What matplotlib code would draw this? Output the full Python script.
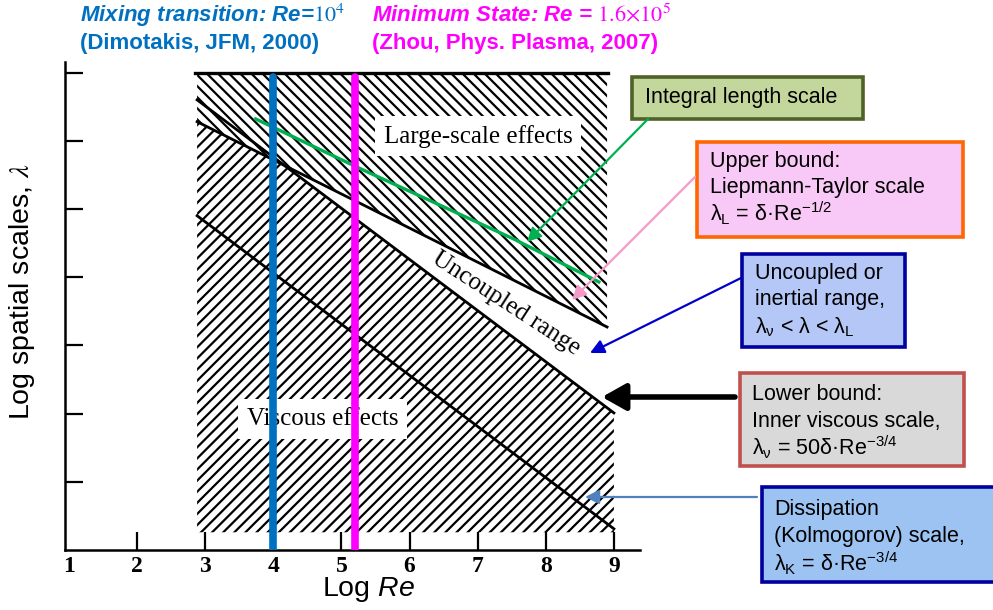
import numpy as np
import matplotlib
matplotlib.use("Agg")
import matplotlib.pyplot as plt
from matplotlib.patches import Rectangle, FancyArrowPatch

# ---------------- data (log10 units) ----------------
log_re_ticks = [1, 2, 3, 4, 5, 6, 7, 8, 9]
log_scale_ticks = [1, 2, 3, 4, 5, 6, 7]

region_start = 2.88          # left edge of the shaded regimes
upper_region_end = 8.90      # right edge of the large-scale region
lower_region_end = 9.00      # right edge of the viscous region
large_scale_top = 7.0
viscous_floor = 0.26

# log(lambda) = intercept + slope * log(Re)
lt_intercept, lt_slope = 7.72, -0.5                  # Liepmann-Taylor, delta*Re^-1/2
nu_intercept, nu_slope = 8.76, -0.75                 # inner viscous, 50*delta*Re^-3/4
k_intercept, k_slope = nu_intercept - np.log10(50), -0.75   # Kolmogorov, delta*Re^-3/4

integral_log_re = [3.74, 5.28, 7.53, 8.78]
integral_log_scale = [6.32, 5.59, 4.56, 3.93]

re_mixing = 1e4
re_minimum = 1.6e5
marker_top = 6.94

# ---------------- style ----------------
plt.rcParams["font.family"] = ["Liberation Sans", "DejaVu Sans"]
plt.rcParams["mathtext.fontset"] = "custom"
plt.rcParams["mathtext.rm"] = "Liberation Sans"
plt.rcParams["mathtext.it"] = "Liberation Sans:italic"
plt.rcParams["mathtext.bf"] = "Liberation Sans:bold"
plt.rcParams["hatch.linewidth"] = 1.6

W, H = 993, 610
fig = plt.figure(figsize=(W / 100, H / 100), dpi=100)
fig.patch.set_facecolor("white")


def fpx(x, y):
    """pixel position (from top-left) -> figure fraction"""
    return x / W, 1 - y / H


ax_left, ax_right, ax_top, ax_bottom = 65, 640, 62, 550
ax = fig.add_axes([ax_left / W, 1 - ax_bottom / H,
                   (ax_right - ax_left) / W, (ax_bottom - ax_top) / H])
ax.set_xlim(0.94, 0.94 + (ax_right - ax_left) / 68.1)
ax.set_ylim(0, (ax_bottom - ax_top) / 68.2)
ax.set_facecolor("none")

for side in ("top", "right"):
    ax.spines[side].set_visible(False)
for side in ("left", "bottom"):
    ax.spines[side].set_linewidth(1.8)

ax.set_xticks(log_re_ticks)
ax.set_xticklabels([str(t) for t in log_re_ticks],
                   fontfamily="Liberation Serif", fontweight="bold", fontsize=17)
ax.set_yticks(log_scale_ticks)
ax.set_yticklabels([])
ax.tick_params(axis="both", direction="in", length=13, width=1.6, pad=4)
ax.xaxis.get_major_ticks()[0].tick1line.set_visible(False)

# ---------------- regimes ----------------
xu = np.linspace(region_start, upper_region_end, 300)
xl = np.linspace(region_start, lower_region_end, 300)
lam_L_u = lt_intercept + lt_slope * xu
lam_L_l = lt_intercept + lt_slope * xl
lam_nu_l = nu_intercept + nu_slope * xl
lam_K_l = k_intercept + k_slope * xl

ax.fill_between(xu, lam_L_u, large_scale_top, facecolor="none",
                edgecolor="black", hatch="\\\\\\", linewidth=0, zorder=1)
ax.fill_between(xl, viscous_floor, np.minimum(lam_L_l, lam_nu_l), facecolor="none",
                edgecolor="black", hatch="///", linewidth=0, zorder=1)

ax.plot([region_start - 0.03, upper_region_end + 0.02],
        [large_scale_top, large_scale_top], color="black", lw=2.4, zorder=2)
ax.plot(xu, lam_L_u, color="black", lw=2.0, zorder=2)
ax.plot(xl, lam_nu_l, color="black", lw=2.0, zorder=2)
ax.plot(xl, lam_K_l, color="black", lw=2.0, zorder=2)

# integral length scale
ax.plot(integral_log_re, integral_log_scale, color="#00B050", lw=2.4, zorder=4)

# Reynolds-number markers
ax.plot([np.log10(re_mixing)] * 2, [0, marker_top], color="#0070C0", lw=5.5,
        solid_capstyle="round", zorder=5)
ax.plot([np.log10(re_minimum)] * 2, [0, marker_top], color="#FF00FF", lw=5.5,
        solid_capstyle="round", zorder=5)

# regime labels
ax.text(7.01, 6.07, "Large-scale effects", fontfamily="Liberation Serif",
        fontsize=18, ha="center", va="center", zorder=3,
        bbox=dict(boxstyle="square,pad=0.35", fc="white", ec="none"))
ax.text(4.72, 1.92, "Viscous effects", fontfamily="Liberation Serif",
        fontsize=18, ha="center", va="center", zorder=3,
        bbox=dict(boxstyle="square,pad=0.35", fc="white", ec="none"))
ax.text(7.42, 3.62, "Uncoupled range", fontfamily="Liberation Serif",
        fontsize=18, ha="center", va="center", rotation=-33,
        rotation_mode="anchor", zorder=3)

# axis titles
fig.text(*fpx(22, 292), r"Log spatial scales, $\lambda$", rotation=90,
         fontsize=20.5, ha="center", va="center", math_fontfamily="stix")
fig.text(*fpx(368, 590), r"Log $Re$", fontsize=20.5, ha="center", va="center")

# header notes
fig.text(*fpx(80, 15), r"Mixing transition: Re=$10^4$", color="#0070C0",
         fontsize=16, fontweight="bold", fontstyle="italic", va="center",
         math_fontfamily="stix")
fig.text(*fpx(80, 43), "(Dimotakis, JFM, 2000)", color="#0070C0",
         fontsize=16, fontweight="bold", va="center")
fig.text(*fpx(372, 15), r"Minimum State: Re = $1.6{\times}10^5$", color="#FF00FF",
         fontsize=16, fontweight="bold", fontstyle="italic", va="center",
         math_fontfamily="stix")
fig.text(*fpx(372, 43), "(Zhou, Phys. Plasma, 2007)", color="#FF00FF",
         fontsize=16, fontweight="bold", va="center")


# ---------------- callout boxes ----------------
def callout(x0, y0, x1, y1, fc, ec, lines, tx, ty0, dy=26):
    fig.add_artist(Rectangle(fpx(x0, y1), (x1 - x0) / W, (y1 - y0) / H,
                             transform=fig.transFigure, fc=fc, ec=ec, lw=2.6,
                             zorder=6))
    for i, s in enumerate(lines):
        fig.text(*fpx(tx, ty0 + i * dy), s, fontsize=15.5, va="center",
                 ha="left", zorder=7)


def arrow(p0, p1, color, lw=1.6, head="-|>,head_length=0.6,head_width=0.3", ms=14):
    fig.add_artist(FancyArrowPatch(fpx(*p0), fpx(*p1), transform=fig.transFigure,
                                   arrowstyle=head, mutation_scale=ms,
                                   color=color, lw=lw, zorder=6,
                                   shrinkA=0, shrinkB=0))


callout(632, 77, 863, 119, "#C3D69B", "#4F6228",
        ["Integral length scale"], 645, 98)
callout(697, 142, 963, 237, "#F8C8F6", "#FF6600",
        ["Upper bound:", "Liepmann-Taylor scale",
         r"λ$_\mathrm{L}$ = δ·Re$^{\mathrm{-1/2}}$"], 710, 162, 25.5)
callout(742, 254, 905, 347, "#B4C7F6", "#0000A0",
        ["Uncoupled or", "inertial range,",
         r"λ$_\mathrm{\nu}$ < λ < λ$_\mathrm{L}$"], 755, 273, 27)
callout(740, 373, 964, 466, "#D9D9D9", "#C0504D",
        ["Lower bound:", "Inner viscous scale,",
         r"λ$_\mathrm{\nu}$ = 50δ·Re$^{\mathrm{-3/4}}$"], 752, 395, 26)
callout(762, 487, 1000, 582, "#9DC3F2", "#0000A0",
        ["Dissipation", "(Kolmogorov) scale,",
         r"λ$_\mathrm{K}$ = δ·Re$^{\mathrm{-3/4}}$"], 774, 510, 26.5)

arrow((648, 119), (527, 242), "#00B050")
arrow((695, 177), (572, 300), "#F59AC8")
arrow((741, 278), (590, 353), "#0000CC")
arrow((735, 397), (602, 397), "black", lw=4,
      head="-|>,head_length=0.8,head_width=0.45", ms=18)
arrow((757, 497), (585, 497), "#4F81BD")

fig.savefig("out.png", dpi=100, facecolor="white")
